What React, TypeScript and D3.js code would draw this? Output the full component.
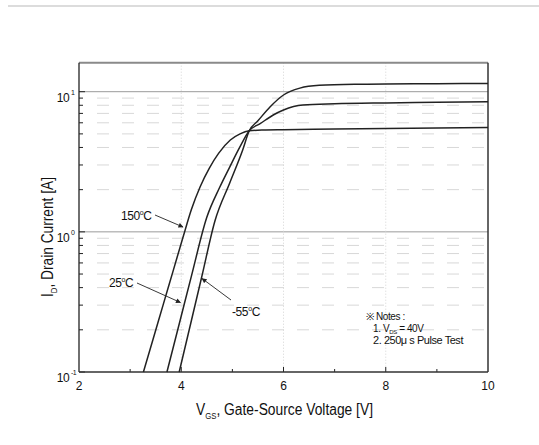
import * as d3 from 'd3';

// V_GS [V] and I_D [A]
const v150 = [3.26, 3.45, 3.65, 3.85, 4.04, 4.2, 4.37, 4.55, 4.73, 4.96, 5.15, 5.33, 5.6, 6.0, 7, 8, 9, 10];
const i150 = [0.1, 0.172, 0.305, 0.54, 0.93, 1.45, 2.1, 2.85, 3.63, 4.52, 5.0, 5.26, 5.33, 5.36, 5.41, 5.46, 5.51, 5.56];

const v25 = [3.72, 3.98, 4.2, 4.5, 4.75, 4.95, 5.15, 5.33, 5.55, 5.8, 6.0, 6.38, 7, 8, 9, 10];
const i25 = [0.1, 0.235, 0.485, 1.27, 2.07, 2.91, 4.05, 5.26, 5.94, 6.82, 7.4, 8.03, 8.2, 8.32, 8.4, 8.48];

const vm55 = [3.96, 4.2, 4.4, 4.66, 4.95, 5.2, 5.33, 5.5, 5.74, 6.0, 6.32, 6.7, 7.5, 8, 9, 10];
const im55 = [0.1, 0.234, 0.476, 1.2, 2.24, 3.82, 5.26, 6.2, 7.81, 9.47, 10.6, 11.1, 11.3, 11.35, 11.4, 11.45];

const xTicks = [2, 4, 6, 8, 10];
const xMinor = [3, 5, 7, 9];
const yDecades = [0.1, 1, 10];
const yDecadeExp = ['-1', '0', '1'];
const yMinor = [0.2, 0.3, 0.4, 0.5, 0.6, 0.7, 0.8, 0.9, 2, 3, 4, 5, 6, 7, 8, 9];

const font = '"Liberation Sans", Arial, Helvetica, sans-serif';

export default function App() {
  const left = 79, right = 488, top = 62.7, bottom = 372;
  const x = d3.scaleLinear().domain([2, 10]).range([left, right]);
  const y = d3.scaleLog().domain([0.1, 16.1]).range([bottom, top]);

  const line = d3.line<[number, number]>()
    .x(d => x(d[0]))
    .y(d => y(d[1]))
    .curve(d3.curveMonotoneX);

  const series = [
    { v: v150, i: i150 },
    { v: v25, i: i25 },
    { v: vm55, i: im55 },
  ];

  const arrow = (x1: number, y1: number, x2: number, y2: number) => (
    <line x1={x1} y1={y1} x2={x2} y2={y2} stroke="#222" strokeWidth={0.9} markerEnd="url(#ah)" />
  );

  const tempLabel = (t: string, tx: number, ty: number) => (
    <text x={tx} y={ty} fontSize={12} fill="#111" fontFamily={font} letterSpacing={-0.4}>
      {t}
      <tspan fontSize={7} dy={-5}>o</tspan>
      <tspan dy={5}>C</tspan>
    </text>
  );

  return (
    <svg width={539} height={445} style={{ position: 'absolute', left: 0, top: 0, background: '#fff' }}>
      <defs>
        <marker id="ah" viewBox="0 0 10 10" refX={9} refY={5} markerWidth={7} markerHeight={5} orient="auto" markerUnits="userSpaceOnUse">
          <path d="M0,0 L10,5 L0,10 Z" fill="#222" />
        </marker>
      </defs>
      <line x1={8} x2={539} y1={6} y2={6} stroke="#d0d0d0" strokeWidth={1.5} />

      {/* grid */}
      {yMinor.map((t, k) => (
        <line key={`ym-${k}`} x1={left + 18} x2={right} y1={y(t)} y2={y(t)}
          stroke="#d8d8d8" strokeWidth={1} strokeDasharray="12,13" />
      ))}
      {[1, 10].map((t, k) => (
        <line key={`yd-${k}`} x1={left} x2={right} y1={y(t)} y2={y(t)} stroke="#9a9a9a" strokeWidth={1} />
      ))}
      {[4, 6, 8].map((t, k) => (
        <line key={`xg-${k}`} x1={x(t)} x2={x(t)} y1={top} y2={bottom}
          stroke="#d4d4d4" strokeWidth={1} strokeDasharray="1,2" />
      ))}

      {/* ticks */}
      {yMinor.map((t, k) => (
        <line key={`ytm-${k}`} x1={left} x2={left + 4} y1={y(t)} y2={y(t)} stroke="#222" />
      ))}
      {yDecades.map((t, k) => (
        <line key={`ytd-${k}`} x1={left} x2={left + 6} y1={y(t)} y2={y(t)} stroke="#222" />
      ))}
      {xMinor.map((t, k) => (
        <line key={`xtm-${k}`} x1={x(t)} x2={x(t)} y1={bottom} y2={bottom - 3} stroke="#222" />
      ))}
      {[4, 6, 8].map((t, k) => (
        <line key={`xtd-${k}`} x1={x(t)} x2={x(t)} y1={bottom} y2={bottom - 5} stroke="#222" />
      ))}

      {/* frame */}
      <line x1={left} x2={right} y1={top} y2={top} stroke="#8a8a8a" strokeWidth={2} />
      <line x1={right} x2={right} y1={top} y2={bottom} stroke="#333" strokeWidth={1.5} />
      <line x1={left} x2={left} y1={top} y2={bottom} stroke="#222" strokeWidth={1.3} />
      <line x1={left} x2={right} y1={bottom} y2={bottom} stroke="#333" strokeWidth={1.5} />

      {/* curves */}
      {series.map((s, k) => (
        <path key={`c-${k}`} d={line(s.v.map((v, j) => [v, s.i[j]] as [number, number])) || ''}
          fill="none" stroke="#222" strokeWidth={1.5} />
      ))}

      {/* tick labels */}
      {xTicks.map((t, k) => (
        <text key={`xl-${k}`} x={x(t)} y={390} textAnchor="middle" fontSize={12} fill="#111" fontFamily={font}>
          {t}
        </text>
      ))}
      {yDecades.map((t, k) => (
        <text key={`yl-${k}`} x={69} y={y(t) + 10} textAnchor="end" fontSize={12} fill="#111" fontFamily={font} letterSpacing={-0.6}>
          10
          <tspan x={71} dy={-7} fontSize={7} textAnchor="start">{yDecadeExp[k]}</tspan>
        </text>
      ))}

      {/* axis titles */}
      <text x={196} y={415} fontSize={16} fill="#111" fontFamily={font} textLength={177} lengthAdjust="spacingAndGlyphs">
        V<tspan fontSize={9} dy={4}>GS</tspan><tspan dy={-4}>, Gate-Source Voltage [V]</tspan>
      </text>
      <text transform="translate(53,297) rotate(-90)" fontSize={16} fill="#111" fontFamily={font} textLength={120} lengthAdjust="spacingAndGlyphs">
        I<tspan fontSize={9} dy={4}>D</tspan><tspan dy={-4}>, Drain Current [A]</tspan>
      </text>

      {/* temperature labels */}
      {tempLabel('150', 121, 220)}
      {arrow(155, 215, 183, 227)}
      {tempLabel('25', 109, 287)}
      {arrow(137, 283, 180.5, 302.5)}
      {tempLabel('-55', 232, 316)}
      {arrow(231, 300, 202, 278.5)}

      {/* notes */}
      <g fontFamily={font} fontSize={10} fill="#111" letterSpacing={-0.4}>
        <text x={366} y={320}>※ Notes :</text>
        <text x={373} y={332}>1. V<tspan fontSize={6} dy={2}>DS</tspan><tspan dy={-2}> = 40V</tspan></text>
        <text x={373} y={344} textLength={90} lengthAdjust="spacingAndGlyphs">2. 250μ s Pulse Test</text>
      </g>
    </svg>
  );
}
